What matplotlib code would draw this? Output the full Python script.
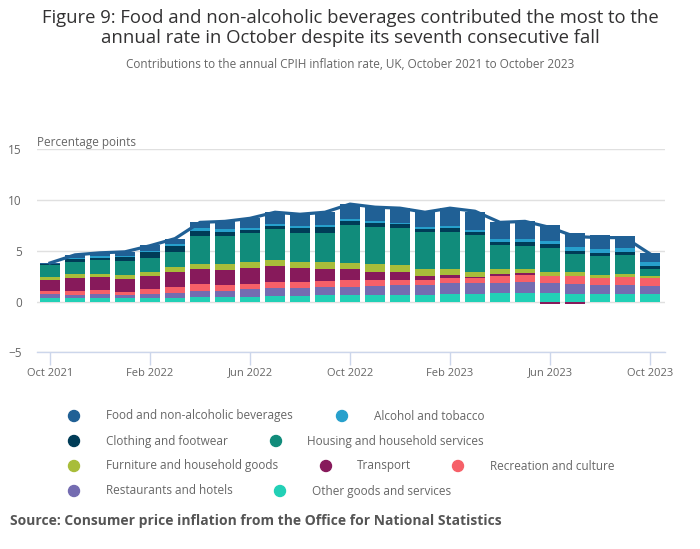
import matplotlib
matplotlib.use("Agg")
import matplotlib.pyplot as plt
import numpy as np

months = ["Oct 2021", "Nov 2021", "Dec 2021", "Jan 2022", "Feb 2022", "Mar 2022",
          "Apr 2022", "May 2022", "Jun 2022", "Jul 2022", "Aug 2022", "Sep 2022",
          "Oct 2022", "Nov 2022", "Dec 2022", "Jan 2023", "Feb 2023", "Mar 2023",
          "Apr 2023", "May 2023", "Jun 2023", "Jul 2023", "Aug 2023", "Sep 2023", "Oct 2023"]

food = [0.10, 0.30, 0.31, 0.41, 0.52, 0.50, 0.60, 0.80, 0.95, 1.25, 1.25, 1.35,
        1.55, 1.45, 1.55, 1.55, 1.75, 1.80, 1.70, 1.75, 1.58, 1.38, 1.38, 1.18, 0.90]
alcohol = [0.05, 0.10, 0.20, 0.10, 0.10, 0.20, 0.20, 0.20, 0.20, 0.20, 0.20, 0.20,
           0.20, 0.20, 0.10, 0.20, 0.20, 0.20, 0.30, 0.30, 0.30, 0.40, 0.40, 0.40, 0.40]
clothing = [0.05, 0.30, 0.16, 0.40, 0.60, 0.60, 0.50, 0.40, 0.30, 0.30, 0.40, 0.50,
            0.40, 0.40, 0.40, 0.30, 0.40, 0.30, 0.30, 0.40, 0.40, 0.30, 0.30, 0.30, 0.30]
housing = [1.18, 1.18, 1.41, 1.38, 1.38, 1.48, 2.76, 2.76, 2.86, 2.96, 2.86, 2.86,
           3.75, 3.65, 3.65, 3.65, 3.65, 3.65, 2.37, 2.27, 2.27, 1.68, 1.78, 1.78, 0.60]
furniture = [0.30, 0.40, 0.30, 0.40, 0.40, 0.50, 0.50, 0.60, 0.60, 0.60, 0.60, 0.70,
             0.60, 0.70, 0.60, 0.60, 0.60, 0.50, 0.40, 0.40, 0.40, 0.40, 0.30, 0.30, 0.20]
transport = [1.09, 1.28, 1.28, 1.28, 1.28, 1.48, 1.48, 1.48, 1.58, 1.58, 1.38, 1.18,
             1.00, 0.80, 0.80, 0.40, 0.30, 0.07, 0.20, 0.20, -0.23, -0.23, 0.00, 0.00, 0.00]
recreation = [0.30, 0.40, 0.40, 0.30, 0.50, 0.60, 0.70, 0.60, 0.46, 0.60, 0.60, 0.60,
              0.70, 0.60, 0.50, 0.50, 0.50, 0.50, 0.70, 0.70, 0.70, 0.80, 0.70, 0.80, 0.80]
restaurants = [0.40, 0.30, 0.40, 0.30, 0.40, 0.50, 0.60, 0.60, 0.80, 0.80, 0.80, 0.80,
               0.80, 0.90, 1.00, 1.00, 1.08, 1.08, 1.00, 1.08, 1.00, 1.00, 0.90, 0.90, 0.80]
other = [0.35, 0.35, 0.35, 0.35, 0.35, 0.35, 0.46, 0.46, 0.46, 0.56, 0.56, 0.66,
         0.66, 0.66, 0.66, 0.66, 0.76, 0.76, 0.86, 0.86, 0.86, 0.76, 0.76, 0.76, 0.76]
cpih = [3.8, 4.6, 4.8, 4.9, 5.5, 6.2, 7.8, 7.9, 8.2, 8.8, 8.6, 8.8,
        9.6, 9.3, 9.2, 8.8, 9.2, 8.9, 7.8, 7.9, 7.3, 6.4, 6.3, 6.3, 4.7]

series_names = ["Food and non-alcoholic beverages", "Alcohol and tobacco",
                "Clothing and footwear", "Housing and household services",
                "Furniture and household goods", "Transport", "Recreation and culture",
                "Restaurants and hotels", "Other goods and services"]
series_values = [food, alcohol, clothing, housing, furniture, transport,
                 recreation, restaurants, other]
colors = ["#206095", "#27a0cc", "#003c57", "#118c7b", "#a8bd3a",
          "#871a5b", "#f66068", "#746cb1", "#22d0b6"]
tick_labels = ["Oct 2021", "Feb 2022", "Jun 2022", "Oct 2022", "Feb 2023", "Jun 2023", "Oct 2023"]

plt.rcParams['font.family'] = ['Open Sans', 'DejaVu Sans']

W, H = 700, 549
fig = plt.figure(figsize=(W / 100, H / 100), dpi=100)
fig.patch.set_facecolor("white")

ax = fig.add_axes([37 / W, 1 - 352.3 / H, (665 - 37) / W, (352.3 - 149.3) / H])
x = np.arange(len(months))

pos_bottom = np.zeros(len(months))
neg_bottom = np.zeros(len(months))
# stack from bottom: last series first
for name, vals, col in reversed(list(zip(series_names, series_values, colors))):
    v = np.array(vals, dtype=float)
    bottoms = np.where(v >= 0, pos_bottom, neg_bottom)
    ax.bar(x, v, width=0.8, bottom=bottoms, color=col, linewidth=0, zorder=3)
    pos_bottom = pos_bottom + np.where(v >= 0, v, 0)
    neg_bottom = neg_bottom + np.where(v < 0, v, 0)

ax.plot(x, cpih, color="#206095", linewidth=2.3, zorder=4, solid_joinstyle="round")

ax.set_xlim(-0.52, 24.6)
ax.set_ylim(-5, 15)
ax.set_yticks([-5, 0, 5, 10, 15])
ax.yaxis.grid(True, color="#e0e0e0", linewidth=1, zorder=0)
ax.set_axisbelow(True)
for s in ["top", "right", "left"]:
    ax.spines[s].set_visible(False)
ax.spines["bottom"].set_color("#ccd6eb")
ax.spines["bottom"].set_linewidth(1)

tick_pos = [months.index(t) for t in tick_labels]
ax.set_xticks(tick_pos)
ax.set_xticklabels(tick_labels)
ax.tick_params(axis="x", length=9, color="#ccd6eb", width=1, labelsize=8, labelcolor="#666666", pad=2)
ax.tick_params(axis="y", length=0, labelsize=8.5, labelcolor="#666666", pad=11)

fig.text(37 / W, 1 - 143 / H, "Percentage points", fontsize=8.5, color="#666666",
         ha="left", va="center")

fig.text(0.5, 1 - 18 / H, "Figure 9: Food and non-alcoholic beverages contributed the most to the",
         fontsize=13.3, color="#323132", ha="center", va="center")
fig.text(0.5, 1 - 38 / H, "annual rate in October despite its seventh consecutive fall",
         fontsize=13.3, color="#323132", ha="center", va="center")
fig.text(0.5, 1 - 64 / H, "Contributions to the annual CPIH inflation rate, UK, October 2021 to October 2023",
         fontsize=8.5, color="#666666", ha="center", va="center")

legend_layout = [
    (74, 106, 416), (342, 374, 416),
    (74, 106, 441), (276, 307, 441),
    (74, 106, 466), (326, 357, 466), (458, 490, 466),
    (74, 106, 491), (280, 312, 491),
]
for (cx, tx, ty), name, col in zip(legend_layout, series_names, colors):
    fig.patches.append(matplotlib.patches.Ellipse((cx / W, 1 - ty / H), 11 / W, 11 / H,
                                                   transform=fig.transFigure, color=col))
    fig.text(tx / W, 1 - ty / H, name, fontsize=8.5, color="#666666", ha="left", va="center")

fig.text(10 / W, 1 - 521 / H, "Source: Consumer price inflation from the Office for National Statistics",
         fontsize=10, color="#555555", fontweight="bold", ha="left", va="center")

fig.savefig("out.png", dpi=100, facecolor="white")
